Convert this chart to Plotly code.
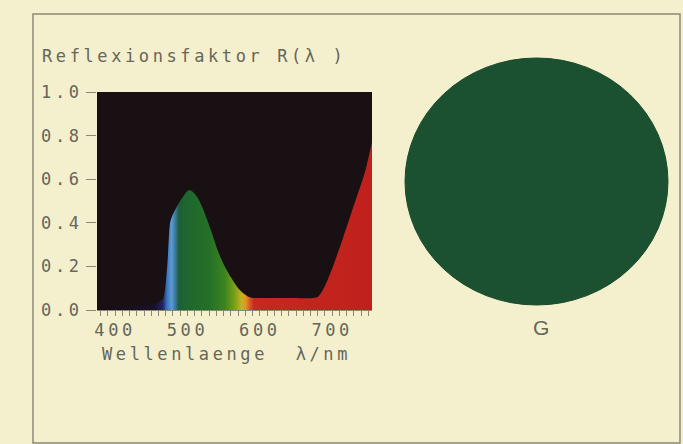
import plotly.graph_objects as go

# Reflectance curve R(lambda) of the green sample
wavelength_nm = [375, 400, 430, 455, 466, 472, 476, 480, 488, 496, 502, 508, 515, 522,
                 532, 541, 550, 560, 570, 578, 585, 592, 600, 640, 680, 690, 700, 715,
                 730, 745, 755]
reflectance = [0.02, 0.02, 0.02, 0.03, 0.05, 0.20, 0.40, 0.44, 0.49, 0.53, 0.55, 0.54,
               0.51, 0.46, 0.37, 0.28, 0.21, 0.15, 0.10, 0.075, 0.06, 0.055, 0.055,
               0.055, 0.06, 0.11, 0.19, 0.33, 0.48, 0.63, 0.77]

# spectral tint used to colour the area under the curve
tint_nm = [375, 455, 466, 472, 478, 483, 488, 495, 530, 552, 565, 574, 580, 586, 592, 755]
tint_colors = ["#160d12", "#1a1128", "#22245e", "#3a78c0", "#5a9ad0", "#3a7aa0",
               "#1e5e3a", "#1d6630", "#247026", "#3d8420", "#78a018", "#c0b020",
               "#e09a22", "#d85a20", "#c42a1e", "#c0201c"]

y_ticks = [0.0, 0.2, 0.4, 0.6, 0.8, 1.0]
y_tick_text = ["0.0", "0.2", "0.4", "0.6", "0.8", "1.0"]
x_ticks = [400, 500, 600, 700]
x_tick_text = ["400", "500", "600", "700"]

title_text = "Reflexionsfaktor R(\u03bb )"
x_title_text = "Wellenlaenge\u00a0\u00a0\u03bb/nm"
swatch_label = "G"

X_MIN, X_MAX = 375, 755

PAGE = "#f4f0cd"
INK = "#66665a"
LINE = "#8a8976"
FONT = "DejaVu Sans Mono"
FS = 17
SP = "letter-spacing:3.6px"

def spaced(s):
    return f'<span style="{SP}">{s}</span>'

# plot area in pixels
PL, PR, PT, PB = 97, 372, 92, 310
W, H = 683, 444

def px(x):
    return (x - PL) / (PR - PL)

def py(y):
    return (PB - y) / (PB - PT)

span = X_MAX - X_MIN
colorscale = [[(t - X_MIN) / span, c] for t, c in zip(tint_nm, tint_colors)]

fig = go.Figure()
fig.add_trace(go.Scatter(
    x=wavelength_nm, y=reflectance, mode="lines",
    line=dict(width=0, shape="spline", smoothing=0.6),
    fill="tozeroy",
    fillgradient=dict(type="horizontal", colorscale=colorscale,
                      start=X_MIN, stop=X_MAX),
    hoverinfo="skip", showlegend=False,
))

fig.update_layout(
    width=W, height=H,
    margin=dict(l=PL, r=W - PR, t=PT, b=H - PB),
    paper_bgcolor=PAGE,
    plot_bgcolor="#181012",
    font=dict(family=FONT, size=FS, color=INK),
    showlegend=False,
)

fig.update_xaxes(
    range=[X_MIN, X_MAX], showgrid=False, zeroline=False,
    showline=True, linecolor=LINE, linewidth=1,
    tickvals=x_ticks, ticktext=[spaced(t) for t in x_tick_text],
    ticks="outside", ticklen=5, tickcolor=LINE, tickwidth=1,
    minor=dict(dtick=10, tick0=380, ticks="outside", ticklen=5,
               tickcolor=LINE, tickwidth=1, showgrid=False),
    tickfont=dict(family=FONT, size=FS, color=INK),
)
fig.update_yaxes(
    range=[0, 1], showgrid=False, zeroline=False,
    showline=False,
    tickvals=y_ticks, ticktext=[spaced(t) for t in y_tick_text],
    ticks="outside", ticklen=10, tickcolor=LINE, tickwidth=1,
    tickfont=dict(family=FONT, size=FS, color=INK),
)

# frame around the whole panel
fig.add_shape(type="rect", xref="paper", yref="paper",
              x0=px(33), x1=px(680), y0=py(443), y1=py(14),
              line=dict(color=LINE, width=1.5), fillcolor="rgba(0,0,0,0)",
              layer="below")

# colour swatch of the sample
fig.add_shape(type="circle", xref="paper", yref="paper",
              x0=px(405), x1=px(668), y0=py(305), y1=py(58),
              line=dict(color="#184a2b", width=1), fillcolor="#1b5130")

fig.add_annotation(text=spaced(title_text), xref="paper", yref="paper",
                   x=px(40), y=py(56), xanchor="left", yanchor="middle",
                   showarrow=False, font=dict(family=FONT, size=FS, color=INK))
fig.add_annotation(text=spaced(x_title_text), xref="paper", yref="paper",
                   x=px(100), y=py(354), xanchor="left", yanchor="middle",
                   showarrow=False, font=dict(family=FONT, size=FS, color=INK))
fig.add_annotation(text=swatch_label, xref="paper", yref="paper",
                   x=px(541), y=py(327), xanchor="center", yanchor="middle",
                   showarrow=False,
                   font=dict(family="Liberation Sans", size=21, color=INK))

fig.write_html("out.html")
